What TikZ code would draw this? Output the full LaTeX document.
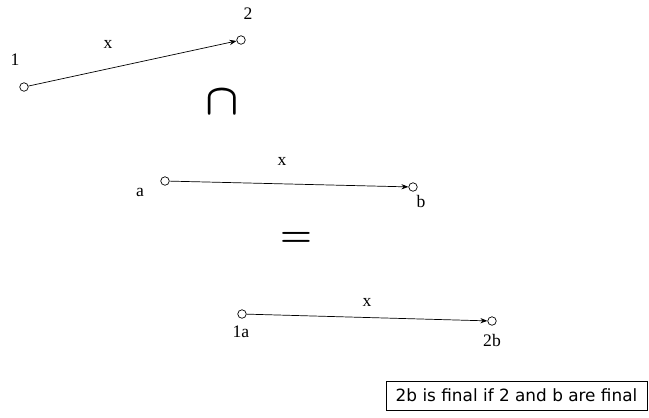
\documentclass[tikz,border=0pt]{standalone}
\usepackage{fontspec}
\setmainfont{Liberation Serif}
\newfontfamily\notefont{DejaVu Sans}
\usetikzlibrary{arrows.meta, positioning}

\begin{document}
\begin{tikzpicture}[
	x=0.02cm, y=-0.02cm,
	state/.style={circle, draw, thin, inner sep=0pt, minimum size=0.17cm},
	lbl/.style={inner sep=0pt, font=\fontsize{10}{12}\selectfont},
	edge/.style={-{Stealth[length=4pt, width=3pt]}, thin},
	op/.style={inner sep=0pt, font=\fontsize{30}{30}\selectfont\boldmath},
	note/.style={draw, thin, inner sep=0pt, minimum width=5.22cm, minimum height=0.58cm, font=\notefont\fontsize{9.6}{11}\selectfont},
	]
	\useasboundingbox (0,0) rectangle (649,417);
	
	% ---- first automaton ----
	\node[state] (s1) at (24,87) {};
	\node[state] (s2) at (241,40) {};
	\node[lbl] (l1) at (15,60) {1};
	\node[lbl] (l2) at (248,14) {2};
	\draw[edge] (s1) -- (s2);
	\node[lbl] (x1) at (108,44) {x};
	
	\node[op] (cap) at (222,102) {$\cap$};
	
	% ---- second automaton ----
	\node[state] (sa) at (165,181) {};
	\node[state] (sb) at (413,187) {};
	\node[lbl] (la) at (140,192) {a};
	\node[lbl] (lb) at (421,201) {b};
	\draw[edge] (sa) -- (sb);
	\node[lbl] (x2) at (282,161) {x};
	
	\node[op, font=\fontsize{22}{22}\selectfont\boldmath] (eq) at (296,239) {$=$};
	
	% ---- product ----
	\node[state] (s1a) at (242,314) {};
	\node[state] (s2b) at (492,321) {};
	\node[lbl] (l1a) at (241,332) {1a};
	\node[lbl] (l2b) at (492,340) {2b};
	\draw[edge] (s1a) -- (s2b);
	\node[lbl] (x3) at (367,302) {x};
	
	\node[note] (final) at (516.5,395.5) {2b is final if 2 and b are final};
	
\end{tikzpicture}
\end{document}
